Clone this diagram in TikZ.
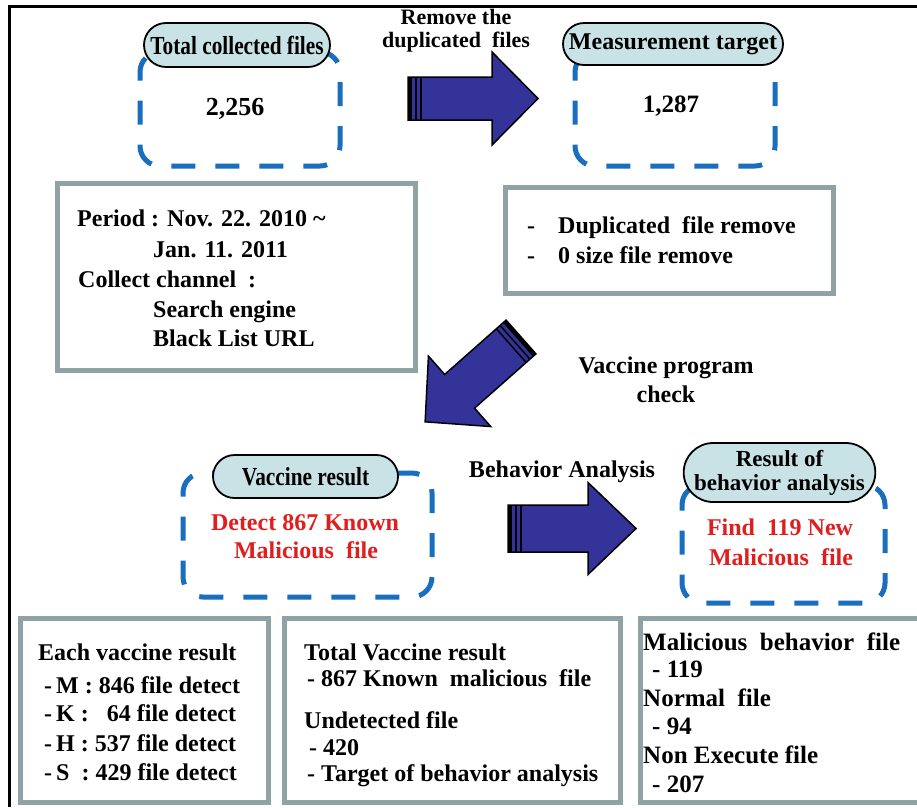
\documentclass[tikz,border=0pt]{standalone}
\usepackage{fontspec}
\setmainfont{Liberation Serif}
\newfontfamily\condfont[FakeStretch=0.82]{Liberation Serif}
\usetikzlibrary{shapes.misc}
\definecolor{navyfill}{RGB}{51,51,153}
\definecolor{dashblue}{RGB}{25,110,190}
\definecolor{pillfill}{RGB}{200,226,230}
\definecolor{boxgray}{RGB}{143,163,166}
\definecolor{redtxt}{RGB}{225,30,30}
\newcommand{\myfatarrow}[4]{%
  \filldraw[fill=navyfill, draw=black, line width=1.5, line join=miter] (0,-#1) -- (#2,-#1) -- (#2,-#3) -- (#4,0) -- (#2,#3) -- (#2,#1) -- (0,#1) -- cycle;
  \fill[black] (0,-#1) rectangle (4,#1);
  \draw[black, line width=1.5] (8,-#1) -- (8,#1);
  \draw[black, line width=1.5] (13,-#1) -- (13,#1);
}
\begin{document}
\begin{tikzpicture}[x=1pt,y=-1pt,
  dashbox/.style={rectangle, draw=dashblue, line width=5, dash pattern=on 24pt off 20pt, rounded corners=20pt, inner sep=0},
  pill/.style={rounded rectangle, draw=black, line width=1.8, fill=pillfill, inner sep=0},
  graybox/.style={rectangle, draw=boxgray, line width=5, inner sep=0},
  tl/.style={inner sep=0, anchor=base west},
  tc/.style={inner sep=0, anchor=base},
  bodyf/.style={font=\bfseries\fontsize{#1}{#1}\selectfont},
  condf/.style={font=\condfont\bfseries\fontsize{#1}{#1}\selectfont},
]
\fill[white] (0,0) rectangle (917,807);
\useasboundingbox (0,0) rectangle (917,807);
% outer frame
\draw[black, line width=3] (9,807) -- (9,6) -- (917,6);

% top-left group
\node[dashbox, minimum width=200, minimum height=114] (tcbox) at (240,109) {};
\node[pill, minimum width=186, minimum height=44, condf=26] (tcpill) at (237,45) {Total collected files};
\node[tc, bodyf=26] (tcnum) at (235,115) {2,256};

% top-right group
\node[dashbox, minimum width=200, minimum height=114] (mtbox) at (675,109) {};
\node[pill, minimum width=220, minimum height=42, bodyf=24] (mtpill) at (673,44) {Measurement target};
\node[tc, bodyf=25] (mtnum) at (671,112) {1,287};

% arrow 1 and label
\begin{scope}[shift={(408,98.5)}]
  \myfatarrow{21.5}{84}{46.5}{130}
\end{scope}
\node[inner sep=0, anchor=north, align=center, font=\bfseries\fontsize{22}{23}\selectfont] (rem) at (456,9) {Remove the\\duplicated\ \ files};

% period box
\node[graybox, minimum width=358, minimum height=187] (pbox) at (236,276.5) {};
\node[tl, bodyf=24] (p1) at (77,226) {Period : Nov. 22. 2010 \textasciitilde};
\node[tl, bodyf=24] (p2) at (153,257) {Jan. 11. 2011};
\node[tl, bodyf=24] (p3) at (78,287) {Collect channel\ \ :};
\node[tl, bodyf=24] (p4) at (153,317) {Search engine};
\node[tl, bodyf=24] (p5) at (153,346) {Black List URL};

% duplicate removal box
\node[graybox, minimum width=328, minimum height=106] (dbox) at (669,240) {};
\node[tl, bodyf=24] (d1) at (527,233) {\makebox[31pt][l]{-}Duplicated\ \ file remove};
\node[tl, bodyf=24] (d2) at (527,263) {\makebox[31pt][l]{-}0 size file remove};

% arrow 2 and label
\begin{scope}[shift={(521,337)}, rotate=221.5]
  \myfatarrow{22.5}{82}{47}{128}
\end{scope}
\node[tc, bodyf=24] (vp1) at (666,373) {Vaccine program};
\node[tc, bodyf=24] (vp2) at (666,402) {check};

% vaccine result group
\node[dashbox, minimum width=249, minimum height=124] (vrbox) at (307.5,535) {};
\node[pill, minimum width=185, minimum height=43, condf=26] (vrpill) at (305.5,476.5) {Vaccine result};
\node[tc, bodyf=24, text=redtxt] (vr1) at (305,530) {Detect 867 Known};
\node[tc, bodyf=24, text=redtxt] (vr2) at (306,558) {Malicious\ \ file};

% arrow 3 and label
\begin{scope}[shift={(508,528.5)}]
  \myfatarrow{23.5}{80}{46}{128}
\end{scope}
\node[tc, bodyf=24] (ba) at (562,477) {Behavior Analysis};

% behavior result group
\node[dashbox, minimum width=203, minimum height=118] (rbbox) at (783.5,544) {};
\node[pill, minimum width=187, minimum height=59, align=center, font=\bfseries\fontsize{23}{24}\selectfont] (rbpill) at (779.5,472.5) {Result of\\behavior analysis};
\node[tc, bodyf=24, text=redtxt] (rb1) at (780,535) {Find\ \ 119 New};
\node[tc, bodyf=24, text=redtxt] (rb2) at (781,565) {Malicious\ \ file};

% bottom boxes
\node[graybox, minimum width=248, minimum height=184] (c1) at (144,710) {};
\node[graybox, minimum width=336, minimum height=184] (c2) at (452,710) {};
\node[graybox, minimum width=295, minimum height=184] (c3) at (787.5,710) {};

\node[tl, bodyf=24] (b1a) at (38,660) {Each vaccine result};
\node[tl, bodyf=24] (b1b) at (44,693) {-\,M : 846 file detect};
\node[tl, bodyf=24] (b1c) at (44,721) {-\,K :\ \ \ 64 file detect};
\node[tl, bodyf=24] (b1d) at (44,751) {-\,H : 537 file detect};
\node[tl, bodyf=24] (b1e) at (44,780) {-\,S\ \ : 429 file detect};

\node[tl, bodyf=24] (b2a) at (304,660) {Total Vaccine result};
\node[tl, bodyf=24] (b2b) at (307,686) {- 867 Known\ \ malicious\ \ file};
\node[tl, bodyf=24] (b2c) at (304,728) {Undetected file};
\node[tl, bodyf=24] (b2d) at (309,755) {- 420};
\node[tl, bodyf=24] (b2e) at (307,781) {- Target of behavior analysis};

\node[tl, bodyf=25] (b3a) at (643,650) {Malicious\ \ behavior\ \ file};
\node[tl, bodyf=25] (b3b) at (652,677) {- 119};
\node[tl, bodyf=25] (b3c) at (643,706) {Normal\ \ file};
\node[tl, bodyf=25] (b3d) at (652,734) {- 94};
\node[tl, bodyf=25] (b3e) at (643,763) {Non Execute file};
\node[tl, bodyf=25] (b3f) at (652,792) {- 207};
\end{tikzpicture}
\end{document}
